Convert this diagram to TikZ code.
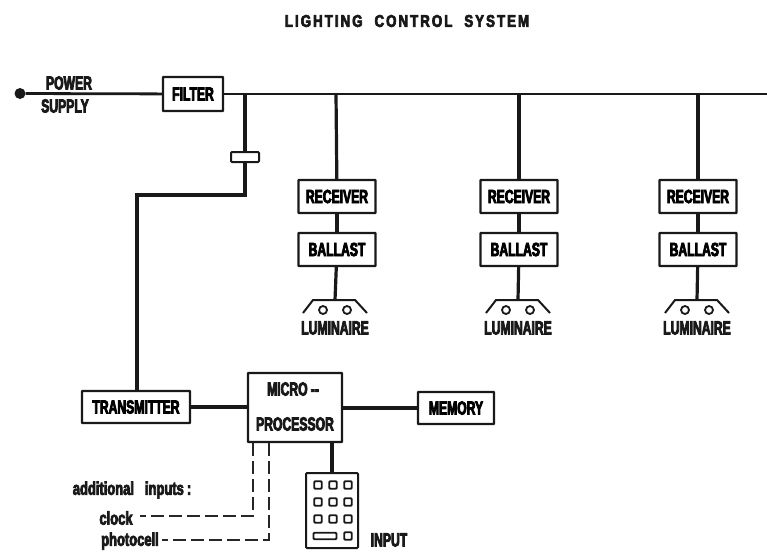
\documentclass[tikz,border=0pt]{standalone}
\usepackage{fontspec}
\setmainfont{Liberation Sans}
\newfontfamily\lab[FakeStretch=0.64,FakeBold=4]{Liberation Sans Bold}
\newfontfamily\ttl[FakeStretch=0.78,FakeBold=4,LetterSpace=12]{Liberation Sans Bold}
\newfontfamily\low[FakeStretch=0.70,FakeBold=4]{Liberation Sans Bold}
\begin{document}
\begin{tikzpicture}[x=1pt,y=-1pt,
  wire/.style={line width=3.2pt,black!90},
  thin wire/.style={line width=2.8pt,black!90},
  dash wire/.style={line width=2.1pt,black!85,dash pattern=on 13pt off 5pt},
  box/.style={draw=black!90,line width=2.2pt,fill=white,rounded corners=0.5pt,inner sep=0pt,font=\lab\fontsize{19}{20}\selectfont},
  small box/.style={draw=black!90,line width=2pt,fill=white,rounded corners=1pt,inner sep=0pt},
  key/.style={draw=black!90,line width=1.9pt,rounded corners=1pt,inner sep=0pt,minimum width=7.5pt,minimum height=7.5pt},
  txt/.style={inner sep=0pt,text=black!90,font=\lab\fontsize{19}{20}\selectfont},
  ltxt/.style={inner sep=0pt,text=black!90,font=\low\fontsize{18.5}{19}\selectfont},
  lamp/.style={draw=black!90,line width=1.8pt,circle,inner sep=0pt,minimum size=8pt},
  dot/.style={circle,fill=black!90,inner sep=0pt,minimum size=11pt},
]
\useasboundingbox (0,0) rectangle (767,552);
\node[inner sep=0pt,text=black!90,font=\ttl\fontsize{17}{18}\selectfont] (title) at (407,21) {LIGHTING\hspace{12pt}CONTROL\hspace{12pt}SYSTEM};

% power
\node[dot] (src) at (20,93.5) {};
\node[box,minimum width=60pt,minimum height=34pt] (filter) at (193,94) {FILTER};
\coordinate (busend) at (767,94);
\coordinate (tap) at (245,94);
\coordinate (b1) at (336,94);
\coordinate (b2) at (519,94);
\coordinate (b3) at (698,94);
\draw[thin wire] (src) -- (filter);
\draw[thin wire] (filter) -- (busend);
\node[txt] (power) at (69,83) {POWER};
\node[txt] (supply) at (65,106) {SUPPLY};

% coupling
\node[small box,minimum width=28pt,minimum height=10pt] (cpl) at (245,157) {};
\coordinate (corner) at (137,195);
\coordinate (cplb) at (245,195);
\draw[wire] (tap) -- (cpl);
\node[box,minimum width=108pt,minimum height=32pt] (tx) at (136,407) {TRANSMITTER};
\draw[wire] (cpl) -- (cplb) -- (corner) -- (tx.north -| corner);

% branches
\foreach \n/\x/\bx in {1/337/336,2/519/519,3/698/698}{
  \node[box,minimum width=77pt,minimum height=33pt] (r\n) at (\x,196.5) {RECEIVER};
  \node[box,minimum width=77pt,minimum height=33pt] (l\n) at (\x,249.5) {BALLAST};
  \coordinate (lt\n) at (\bx-1,300);
  \draw[wire] (b\n) -- (r\n);
  \draw[wire] (r\n) -- (l\n);
  \draw[wire] (l\n) -- (lt\n);
  \draw[line width=2pt,black!90] (\bx-33,313) -- (\bx-23,300) -- (\bx+19,300) -- (\bx+31,313);
  \node[lamp] (la\n) at (\bx-13,310) {};
  \node[lamp] (lb\n) at (\bx+11,310) {};
  \node[txt] (lum\n) at (\bx-1,328) {LUMINAIRE};
}

% processor
\node[box,minimum width=94pt,minimum height=69pt] (mp) at (295,407.5) {};
\node[txt] (mp1) at (293,389) {MICRO\,--};
\node[txt] (mp2) at (295,424) {PROCESSOR};
\node[box,minimum width=76pt,minimum height=32pt] (mem) at (456,408) {MEMORY};
\draw[wire] (tx.east) -- (mp.west |- tx.east);
\draw[wire] (mp.east |- mem.west) -- (mem.west);

% keypad
\node[small box,minimum width=52pt,minimum height=75pt] (pad) at (332,510.5) {};
\draw[wire] (mp.south -| pad) -- (pad);
\foreach \r/\y in {1/485,2/502,3/519}{
  \node[key] (k\r a) at (318,\y) {};
  \node[key] (k\r b) at (333,\y) {};
  \node[key] (k\r c) at (348,\y) {};
}
\node[key,minimum width=23pt,minimum height=6.5pt] (kw) at (325,536) {};
\node[key] (kl) at (348,536) {};
\node[txt] (inp) at (389,540) {INPUT};

% additional inputs
\node[ltxt] (add) at (132,490) {additional\hspace{11pt}inputs\,:};
\node[ltxt] (clk) at (116,518) {clock};
\node[ltxt] (pho) at (130,541) {photocell};
\coordinate (d1) at (253,516);
\coordinate (d2) at (269,540);
\coordinate (clkend) at (140,516);
\coordinate (phoend) at (162,540);
\draw[dash wire] (mp.south -| d1) -- (d1) -- (clkend);
\draw[dash wire] (mp.south -| d2) -- (d2) -- (phoend);
\end{tikzpicture}
\end{document}
